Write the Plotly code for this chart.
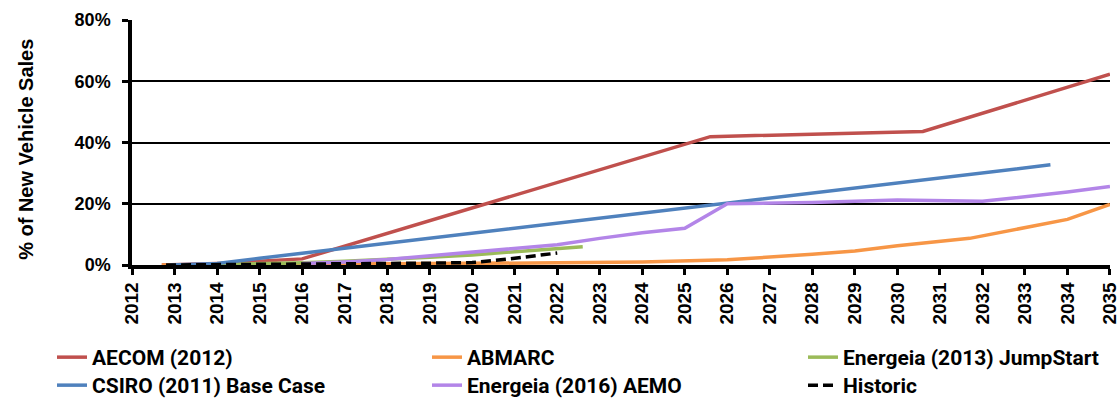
import plotly.graph_objects as go

# Share of new vehicle sales (%) by year for each EV uptake projection
aecom_years = [2012.7, 2014.2, 2016.0, 2025.6, 2030.6, 2035.0]
aecom_share = [0.0, 0.6, 2.0, 41.9, 43.6, 62.3]

abmarc_years = [2012.7, 2016, 2020, 2022, 2024, 2026, 2028, 2029, 2030, 2031.7, 2034, 2035]
abmarc_share = [0.0, 0.2, 0.5, 0.7, 1.0, 1.7, 3.5, 4.6, 6.3, 8.7, 14.9, 19.8]

jumpstart_years = [2013.5, 2015, 2016, 2017, 2018, 2019, 2020, 2021, 2022, 2022.6]
jumpstart_share = [0.0, 0.3, 0.7, 1.2, 1.8, 2.5, 3.3, 4.3, 5.3, 6.0]

csiro_years = [2012.9, 2014, 2015, 2016, 2033.6]
csiro_share = [0.0, 0.5, 2.2, 3.8, 32.7]

aemo_years = [2016, 2017, 2018, 2019, 2020, 2021, 2022, 2023, 2024, 2025, 2026, 2028, 2030, 2032, 2034, 2035]
aemo_share = [0.5, 1.0, 1.8, 3.0, 4.2, 5.3, 6.6, 8.7, 10.5, 12.0, 20.0, 20.4, 21.2, 20.8, 23.8, 25.6]

historic_years = [2012.8, 2014, 2016, 2018, 2019, 2020, 2021, 2022]
historic_share = [0.0, 0.1, 0.2, 0.3, 0.6, 0.8, 2.2, 3.9]

year_ticks = list(range(2012, 2036))
pct_ticks = [0, 20, 40, 60, 80]

# (name, x, y, colour, dash, legend key)
series = [
    ("AECOM (2012)", aecom_years, aecom_share, "#C0504D", "solid", "legend"),
    ("ABMARC", abmarc_years, abmarc_share, "#F79646", "solid", "legend2"),
    ("Energeia (2013) JumpStart", jumpstart_years, jumpstart_share, "#9BBB59", "solid", "legend3"),
    ("CSIRO (2011) Base Case", csiro_years, csiro_share, "#4F81BD", "solid", "legend4"),
    ("Energeia (2016) AEMO", aemo_years, aemo_share, "#B385E8", "solid", "legend5"),
    ("Historic", historic_years, historic_share, "#000000", "10px,5px", "legend6"),
]

fig = go.Figure()
for name, xs, ys, color, dash, lg in series:
    fig.add_trace(go.Scatter(
        x=xs, y=[v / 100 for v in ys], mode="lines", name=name,
        line=dict(color=color, width=3.5, dash=dash), legend=lg,
    ))

arial_bold = "Liberation Sans, Arial, sans-serif"
legend_font = dict(family="Roboto, sans-serif", size=21, color="black", weight="bold")


def legend_entry(left_px, top_px):
    return dict(
        orientation="v", xref="container", yref="container",
        x=left_px / 1119, y=1 - top_px / 401, xanchor="left", yanchor="top",
        font=legend_font, bgcolor="rgba(0,0,0,0)",
    )


# legend laid out as a 3 x 2 grid under the axis
col_left = [52, 427, 803]
row_top = [337, 365]

fig.update_layout(
    width=1119, height=401,
    margin=dict(l=132, r=9, t=20, b=136, autoexpand=False),
    plot_bgcolor="white", paper_bgcolor="white",
    showlegend=True,
    legend=legend_entry(col_left[0], row_top[0]),
    legend2=legend_entry(col_left[1], row_top[0]),
    legend3=legend_entry(col_left[2], row_top[0]),
    legend4=legend_entry(col_left[0], row_top[1]),
    legend5=legend_entry(col_left[1], row_top[1]),
    legend6=legend_entry(col_left[2], row_top[1]),
)

# vertical axis title, placed left of the tick labels
fig.add_annotation(
    text="% of New Vehicle Sales", textangle=-90,
    xref="paper", yref="paper", x=-106 / 978, y=0.47,
    xanchor="center", yanchor="middle", showarrow=False,
    font=dict(family=arial_bold, size=20, color="black", weight="bold"),
)

fig.update_xaxes(
    range=[2011.999, 2035.001], tickmode="array", tickvals=year_ticks,
    ticktext=[str(y) for y in year_ticks], tickangle=-90,
    ticklabeloverflow="allow",
    ticks="outside", ticklen=6, tickwidth=2.5, tickcolor="black",
    showline=True, linecolor="black", linewidth=3.5,
    showgrid=False, zeroline=False,
    tickfont=dict(family=arial_bold, size=19, color="black", weight="bold"),
)

fig.update_yaxes(
    range=[0, 0.8], tickmode="array", tickvals=[p / 100 for p in pct_ticks],
    ticktext=[f"{p}%" for p in pct_ticks],
    ticks="outside", ticklen=6, tickwidth=2.5, tickcolor="black",
    ticklabelstandoff=8,
    showline=True, linecolor="black", linewidth=3.5,
    showgrid=True, gridcolor="black", gridwidth=1.5, zeroline=False,
    tickfont=dict(family=arial_bold, size=18, color="black", weight="bold"),
)

fig.write_html("out.html")
